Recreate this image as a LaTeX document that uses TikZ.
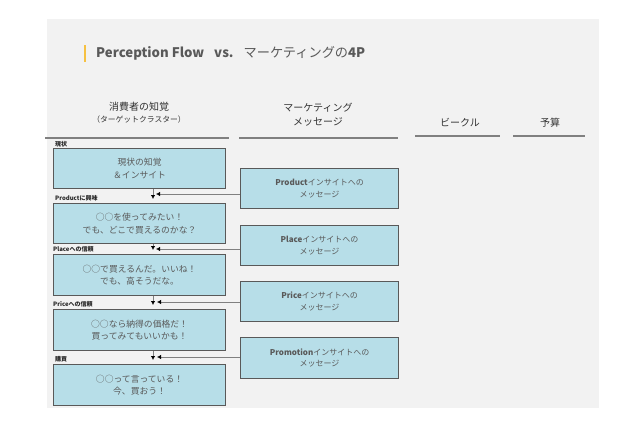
\documentclass[tikz,border=0pt]{standalone}
\usepackage{fontspec}
\setmainfont{Noto Sans CJK JP}
\usetikzlibrary{arrows.meta}
\definecolor{panel}{HTML}{F2F2F2}
\definecolor{boxfill}{HTML}{B7DEE8}
\definecolor{boxline}{HTML}{595959}
\definecolor{txt}{HTML}{595959}
\definecolor{accent}{HTML}{F6C142}
\definecolor{hline}{HTML}{808080}
\tikzset{
  lbox/.style={draw=boxline, line width=1.1pt, fill=boxfill, anchor=north west,
    minimum width=172pt, inner sep=0pt, align=center, text=txt,
    font=\fontsize{8.8}{12.5}\selectfont},
  mbox/.style={draw=boxline, line width=1.1pt, fill=boxfill, anchor=north west,
    minimum width=158pt, inner sep=0pt, align=center, text=txt,
    font=\fontsize{8}{11.5}\selectfont},
  head/.style={align=center, text=black!80, font=\fontsize{10}{13}\selectfont},
  subhead/.style={font=\fontsize{7.8}{10}\selectfont},
  hrule/.style={draw=hline, line width=1.3pt},
  tag/.style={anchor=west, inner sep=0pt, text=black!85, font=\fontsize{6}{7}\selectfont\bfseries},
  conn/.style={draw=hline, line width=1pt, -{Latex[length=4pt,width=4.5pt,black]}},
}
\begin{document}
\begin{tikzpicture}[x=1pt,y=-1pt]
\useasboundingbox (0,0) rectangle (640,426);
\fill[white] (0,0) rectangle (640,426);
\fill[panel] (47,19) rectangle (599,408);
% title
\draw[accent, line width=1.6pt] (85,45) -- (85,62);
\node[anchor=west, inner sep=0pt, text=txt, font=\fontsize{13.2}{15}\selectfont] (title) at (96,53)
  {\textbf{Perception Flow}\hspace{10pt}\textbf{vs.}\hspace{10pt}マーケティングの\textbf{4P}};
% headers
\node[head] (h1) at (139,107) {消費者の知覚};
\node[head, subhead] (h1b) at (139,120) {（ターゲットクラスター）};
\node[head] (h2) at (318,108) {マーケティング};
\node[head] (h2b) at (318,122) {メッセージ};
\node[head] (h3) at (460,123) {ビークル};
\node[head] (h4) at (550,123) {予算};
\draw[hrule] (45,138) -- (229,138);
\draw[hrule] (239,138) -- (398,138);
\draw[hrule] (415,136) -- (500,136);
\draw[hrule] (513,136) -- (585,136);
% left boxes
\node[lbox, minimum height=40pt] (b1) at (53,148) {現状の知覚\\＆インサイト};
\node[lbox, minimum height=40pt] (b2) at (53,203) {○○を使ってみたい！\\でも、どこで買えるのかな？};
\node[lbox, minimum height=41pt] (b3) at (53,254) {○○で買えるんだ。いいね！\\でも、高そうだな。};
\node[lbox, minimum height=41pt] (b4) at (53,309) {○○なら納得の価格だ！\\買ってみてもいいかも！};
\node[lbox, minimum height=41pt] (b5) at (53,364) {○○って言っている！\\今、買おう！};
% tags
\node[tag] (t1) at (55,144) {現状};
\node[tag] (t2) at (55,198) {Productに興味};
\node[tag] (t3) at (53,249.5) {Placeへの信頼};
\node[tag] (t4) at (53,304) {Priceへの信頼};
\node[tag] (t5) at (55,359) {購買};
% message boxes
\node[mbox, minimum height=40pt] (m1) at (240,168) {\textbf{Product}インサイトへの\\メッセージ};
\node[mbox, minimum height=40pt] (m2) at (240,225) {\textbf{Place}インサイトへの\\メッセージ};
\node[mbox, minimum height=40pt] (m3) at (240,281) {\textbf{Price}インサイトへの\\メッセージ};
\node[mbox, minimum height=41pt] (m4) at (240,337) {\textbf{Promotion}インサイトへの\\メッセージ};
% junctions
\coordinate (v1) at (153,199);
\coordinate (v2) at (153,250);
\coordinate (v3) at (153,305);
\coordinate (v4) at (153,360);
\coordinate (j1) at (156,194);
\coordinate (j2) at (156,249);
\coordinate (j3) at (157,302);
\coordinate (j4) at (157,357);
\draw[conn] (b1.south -| v1) -- (v1);
\draw[conn] (b2.south -| v2) -- (v2);
\draw[conn] (b3.south -| v3) -- (v3);
\draw[conn] (b4.south -| v4) -- (v4);
\draw[conn] (m1.west |- j1) -- (j1);
\draw[conn] (m2.west |- j2) -- (j2);
\draw[conn] (m3.west |- j3) -- (j3);
\draw[conn] (m4.west |- j4) -- (j4);
\end{tikzpicture}
\end{document}
